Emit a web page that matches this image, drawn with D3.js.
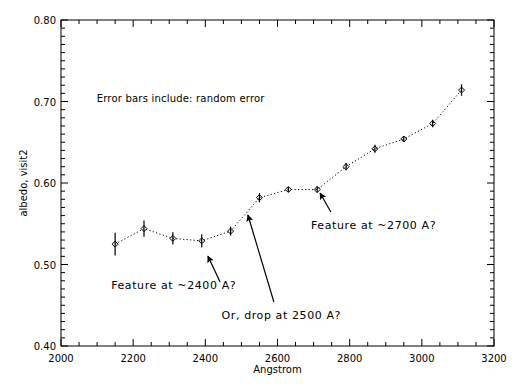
<!DOCTYPE html>
<html>
<head>
<meta charset="utf-8">
<script src="https://cdn.jsdelivr.net/npm/d3@7"></script>
<style>
  body { margin: 0; background: #fff; }
  text { font-family: "DejaVu Sans", sans-serif; fill: #000; }
</style>
</head>
<body>
<script>
// data
const wavelength = [2150, 2230, 2310, 2390, 2470, 2550, 2630, 2710, 2790, 2870, 2950, 3030, 3110];
const albedo = [0.525, 0.544, 0.532, 0.529, 0.541, 0.582, 0.592, 0.592, 0.620, 0.642, 0.654, 0.673, 0.714];
const errs = [0.014, 0.010, 0.0075, 0.008, 0.0055, 0.0057, 0.003, 0.004, 0.0045, 0.005, 0.0037, 0.0045, 0.007];
const xTicks = [2000, 2200, 2400, 2600, 2800, 3000, 3200];
const yTicks = [0.40, 0.50, 0.60, 0.70, 0.80];
const notes = [
  { text: "Feature at ~2400 A?", x: 2139, y: 0.470, from: [2441, 0.4785], to: [2407, 0.5104] },
  { text: "Or, drop at 2500 A?", x: 2445, y: 0.433, from: [2590, 0.454], to: [2518, 0.5607] },
  { text: "Feature at ~2700 A?", x: 2693, y: 0.5436, from: [2748, 0.5644], to: [2718, 0.5877] }
];

const width = 512, height = 384;
const margin = { top: 20, right: 18, bottom: 38, left: 61 };

const svg = d3.select("body").append("svg")
  .attr("width", width)
  .attr("height", height);

const x = d3.scaleLinear().domain([2000, 3200]).range([margin.left, width - margin.right]);
const y = d3.scaleLinear().domain([0.40, 0.80]).range([height - margin.bottom, margin.top]);

// frame
svg.append("rect")
  .attr("x", x(2000)).attr("y", y(0.80))
  .attr("width", x(3200) - x(2000)).attr("height", y(0.40) - y(0.80))
  .attr("fill", "none").attr("stroke", "#000").attr("stroke-width", 1);

// ticks on all sides, minor every 50 A / 0.01
const xMinor = d3.range(2000, 3201, 50);
const yMinor = d3.range(40, 81).map(d => d / 100);
const tk = svg.append("g").attr("stroke", "#000").attr("stroke-width", 1);
xMinor.forEach(v => {
  const len = v % 200 === 0 ? 7 : 4;
  tk.append("line").attr("x1", x(v)).attr("x2", x(v)).attr("y1", y(0.40)).attr("y2", y(0.40) - len);
  tk.append("line").attr("x1", x(v)).attr("x2", x(v)).attr("y1", y(0.80)).attr("y2", y(0.80) + len);
});
yMinor.forEach((v, i) => {
  const len = i % 10 === 0 ? 7 : 4;
  tk.append("line").attr("y1", y(v)).attr("y2", y(v)).attr("x1", x(2000)).attr("x2", x(2000) + len);
  tk.append("line").attr("y1", y(v)).attr("y2", y(v)).attr("x1", x(3200)).attr("x2", x(3200) - len);
});

// tick labels
svg.append("g").selectAll("text").data(xTicks).join("text")
  .attr("x", d => x(d)).attr("y", y(0.40) + 16)
  .attr("text-anchor", "middle").attr("font-size", 10)
  .text(d => d);
svg.append("g").selectAll("text").data(yTicks).join("text")
  .attr("x", x(2000) - 5).attr("y", d => y(d) + 4)
  .attr("text-anchor", "end").attr("font-size", 10)
  .text(d => d.toFixed(2));

// axis titles
svg.append("text")
  .attr("x", (x(2000) + x(3200)) / 2).attr("y", height - 11)
  .attr("text-anchor", "middle").attr("font-size", 10)
  .text("Angstrom");
svg.append("text")
  .attr("transform", `translate(27,${(y(0.4) + y(0.8)) / 2}) rotate(-90)`)
  .attr("text-anchor", "middle").attr("font-size", 10)
  .text("albedo, visit2");

// dotted connecting line
const pts = wavelength.map((w, i) => ({ w, a: albedo[i], e: errs[i] }));
svg.append("path")
  .datum(pts)
  .attr("fill", "none").attr("stroke", "#000").attr("stroke-width", 1)
  .attr("stroke-dasharray", "1.2,2.3")
  .attr("d", d3.line().x(d => x(d.w)).y(d => y(d.a)));

// error bars + diamonds
const pt = svg.append("g").selectAll("g").data(pts).join("g");
pt.append("line")
  .attr("x1", d => x(d.w)).attr("x2", d => x(d.w))
  .attr("y1", d => y(d.a - d.e)).attr("y2", d => y(d.a + d.e))
  .attr("stroke", "#000").attr("stroke-width", 1.2);
pt.append("path")
  .attr("transform", d => `translate(${x(d.w)},${y(d.a)})`)
  .attr("d", "M0,-3L3,0L0,3L-3,0Z")
  .attr("fill", "none").attr("stroke", "#000").attr("stroke-width", 1);

// note text
svg.append("text")
  .attr("x", x(2099)).attr("y", y(0.6994))
  .attr("font-size", 10).attr("letter-spacing", 0.2)
  .text("Error bars include: random error");

svg.append("defs").append("marker")
  .attr("id", "head").attr("viewBox", "0 0 10 10")
  .attr("refX", 9).attr("refY", 5)
  .attr("markerWidth", 10).attr("markerHeight", 7)
  .attr("markerUnits", "userSpaceOnUse")
  .attr("orient", "auto")
  .append("path").attr("d", "M0,0L10,5L0,10L2,5Z").attr("fill", "#000");

notes.forEach(n => {
  svg.append("text")
    .attr("x", x(n.x)).attr("y", y(n.y))
    .attr("font-size", 11).attr("letter-spacing", 0.6)
    .text(n.text);
  svg.append("line")
    .attr("x1", x(n.from[0])).attr("y1", y(n.from[1]))
    .attr("x2", x(n.to[0])).attr("y2", y(n.to[1]))
    .attr("stroke", "#000").attr("stroke-width", 1.2)
    .attr("marker-end", "url(#head)");
});
</script>
</body>
</html>
